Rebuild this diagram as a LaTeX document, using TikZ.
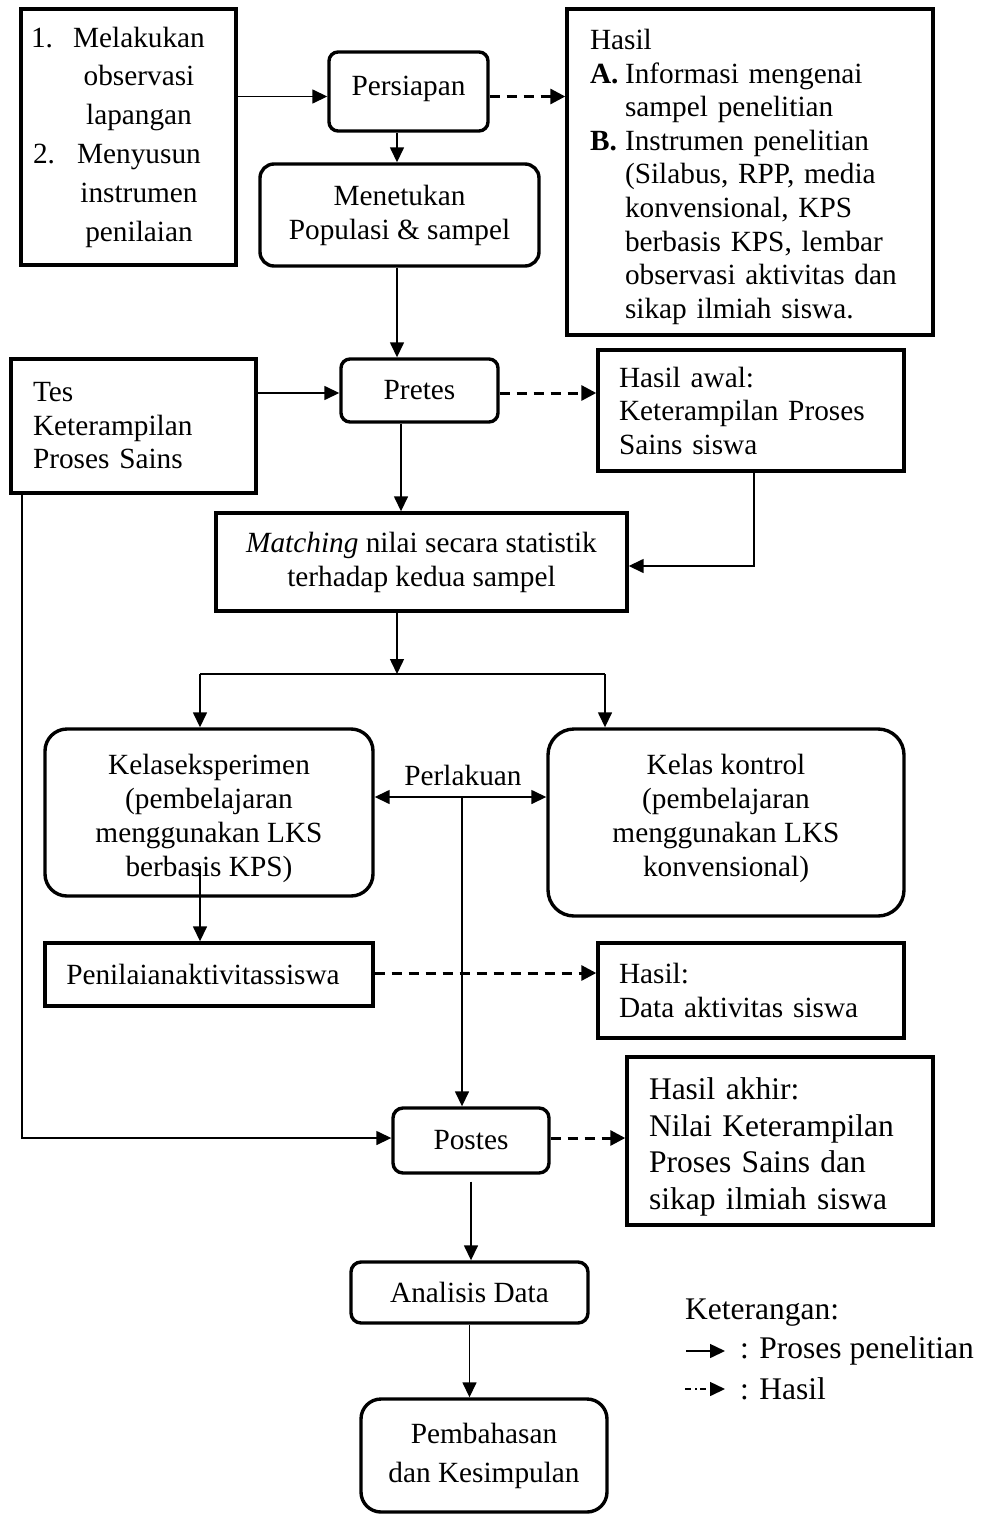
\documentclass[tikz,border=0pt]{standalone}
\usepackage{fontspec}
\setmainfont{Liberation Serif}
\usetikzlibrary{arrows.meta}
\begin{document}
\begin{tikzpicture}[x=1pt,y=-1pt,
  every node/.style={inner sep=0pt, font=\fontsize{29.3pt}{34pt}\selectfont},
  box/.style={draw, line width=3.4pt, inner sep=0pt, align=center},
  rbox/.style={box, rounded corners=#1},
  lbox/.style={box, align=left},
  conn/.style={line width=1.5pt, -{Triangle[length=15pt,width=14pt]}},
  plain/.style={line width=1.5pt},
  dconn/.style={line width=3pt, dash pattern=on 10pt off 7pt, -{Triangle[length=15pt,width=15pt]}},
  both/.style={line width=1.5pt, {Triangle[length=15pt,width=14pt]}-{Triangle[length=15pt,width=14pt]}}
]
\useasboundingbox (0,0) rectangle (981,1514);
\fill[white] (0,0) rectangle (981,1514);

% top row
\node[lbox, minimum width=215pt, minimum height=256pt, text width=195pt,
  font=\fontsize{29.3pt}{38.8pt}\selectfont] (box1) at (128.5,137) {%
\makebox[42pt][l]{1.}\makebox[132pt]{Melakukan}\\
\makebox[42pt][l]{}\makebox[132pt]{observasi}\\
\makebox[42pt][l]{}\makebox[132pt]{lapangan}\\
\makebox[42pt][l]{\hspace{2pt}2.}\makebox[132pt]{Menyusun}\\
\makebox[42pt][l]{}\makebox[132pt]{instrumen}\\
\makebox[42pt][l]{}\makebox[132pt]{penilaian}};

\node[rbox=9pt, minimum width=159pt, minimum height=79pt] (persiapan) at (408.5,91.5) {Persiapan\\[-22pt]\phantom{x}};

\node[rbox=14pt, minimum width=279pt, minimum height=102pt] (menetukan) at (399.5,215) {Menetukan\\Populasi \& sampel};

\node[lbox, minimum width=366pt, minimum height=326pt, text width=320pt,
  font=\fontsize{29.3pt}{33.6pt}\selectfont] (hasil) at (750,172) {%
Hasil\rule{0pt}{30pt}\\
\makebox[35pt][l]{\textbf{A.}}Informasi mengenai\\
\hspace*{35pt}sampel penelitian\\
\makebox[35pt][l]{\textbf{B.}}Instrumen penelitian\\
\hspace*{35pt}(Silabus, RPP, media\\
\hspace*{35pt}konvensional, KPS\\
\hspace*{35pt}berbasis KPS, lembar\\
\hspace*{35pt}observasi aktivitas dan\\
\hspace*{35pt}sikap ilmiah siswa.};

% pretes row
\node[rbox=9pt, minimum width=157pt, minimum height=63pt] (pretes) at (419.5,390.5) {Pretes};

\node[lbox, minimum width=245pt, minimum height=134pt, text width=201pt,
  font=\fontsize{29.3pt}{33.5pt}\selectfont] (tes) at (133.5,426) {Tes\\Keterampilan\\Proses Sains};

\node[lbox, minimum width=306pt, minimum height=121pt, text width=264pt,
  font=\fontsize{29.3pt}{33.5pt}\selectfont] (hawal) at (751,410.5) {Hasil awal:\\Keterampilan Proses\\Sains siswa};

\node[box, minimum width=411pt, minimum height=98pt] (matching) at (421.5,562) {\textit{Matching} nilai secara statistik\\terhadap kedua sampel};

% classes
\node[rbox=22pt, minimum width=328pt, minimum height=167pt] (ke) at (209,812.5) {\rule{0pt}{32pt}Kelaseksperimen\\(pembelajaran\\menggunakan LKS\\berbasis KPS)};
\node[rbox=26pt, minimum width=356pt, minimum height=187pt] (kk) at (726,822.5) {Kelas kontrol\\(pembelajaran\\menggunakan LKS\\konvensional)\\[-20pt]\phantom{x}};
\node (perl) at (463,775) {Perlakuan};

\node[box, minimum width=328pt, minimum height=63pt] (penilaian) at (209,974.5) {\hspace*{-12pt}Penilaianaktivitassiswa};
\node[lbox, minimum width=306pt, minimum height=95pt, text width=264pt] (hdata) at (751,990.5) {Hasil:\\Data aktivitas siswa};

\node[lbox, minimum width=306pt, minimum height=168pt, text width=262pt,
  font=\fontsize{31.5pt}{36.6pt}\selectfont] (hakhir) at (780,1141) {\rule{0pt}{34pt}Hasil akhir:\\Nilai Keterampilan\\Proses Sains dan\\sikap ilmiah siswa};

\node[rbox=10pt, minimum width=156pt, minimum height=65pt] (postes) at (471,1140.5) {Postes};
\node[rbox=10pt, minimum width=237pt, minimum height=61pt] (analisis) at (469.5,1292.5) {Analisis Data};
\node[rbox=20pt, minimum width=246pt, minimum height=113pt, font=\fontsize{29.3pt}{39pt}\selectfont] (pemb) at (484,1455.5) {Pembahasan\\dan Kesimpulan};

% connectors
\draw[conn] ([yshift=-5pt]persiapan.west -| box1.east) -- ([yshift=-5pt]persiapan.west);
\draw[dconn] ([yshift=-5pt]persiapan.east) -- ([yshift=-5pt]persiapan.east -| hasil.west);
\draw[conn] ([xshift=-2.5pt]menetukan.north |- persiapan.south) -- ([xshift=-2.5pt]menetukan.north);
\draw[conn] ([xshift=-2.5pt]menetukan.south) -- ([xshift=-2.5pt]menetukan.south |- pretes.north);
\draw[conn] ([yshift=-2.5pt]pretes.west -| tes.east) -- ([yshift=-2.5pt]pretes.west);
\draw[dconn] ([yshift=-2.5pt]pretes.east) -- ([yshift=-2.5pt]pretes.east -| hawal.west);
\draw[conn] ([xshift=-18.5pt]pretes.south) -- ([xshift=-18.5pt]pretes.south |- matching.north);
\draw[conn] ([xshift=3pt]hawal.south) |- ([yshift=-4pt]matching.east);

\coordinate (split) at (397,674);
\coordinate (sl) at (200,674);
\coordinate (sr) at (605,674);
\draw[conn] (matching.south -| split) -- (split);
\draw[plain] (sl) -- (sr);
\draw[conn] (sl) -- (sl |- ke.north);
\draw[conn] (sr) -- (sr |- kk.north);

\coordinate (pc) at (462,797);
\draw[both] (pc -| ke.east) -- (pc -| kk.west);
\draw[conn] (pc) -- (pc |- postes.north);

\coordinate (kb) at (200,866);
\draw[conn] (kb) -- (kb |- penilaian.north);
\draw[dconn] ([yshift=1.5pt]penilaian.east) -- ([yshift=1.5pt]penilaian.east -| hdata.west);

\coordinate (tl) at (22,1138);
\draw[conn] (tes.south -| tl) |- ([yshift=2.5pt]postes.west);
\draw[dconn] ([yshift=2.5pt]postes.east) -- ([yshift=2.5pt]postes.east -| hakhir.west);
\draw[conn] ([yshift=-7pt]postes.south) -- (postes.south |- analisis.north);
\draw[conn] (analisis.south) -- (analisis.south |- pemb.north);

% legend
\node[anchor=west, font=\fontsize{31.5pt}{36pt}\selectfont] (ket) at (685,1313) {Keterangan:};
\coordinate (la1) at (686,1351);
\coordinate (la2) at (725,1351);
\draw[conn] (la1) -- (la2);
\node[anchor=west, font=\fontsize{31.5pt}{36pt}\selectfont] (lt1) at (740,1351) {: Proses penelitian};
\coordinate (ld1) at (685,1389);
\coordinate (ld2) at (725,1389);
\draw[line width=1.5pt, dash pattern=on 6pt off 4pt on 2pt off 3pt, -{Triangle[length=15pt,width=14pt]}] (ld1) -- (ld2);
\node[anchor=west, font=\fontsize{31.5pt}{36pt}\selectfont] (lt2) at (740,1389) {: Hasil};
\end{tikzpicture}
\end{document}
